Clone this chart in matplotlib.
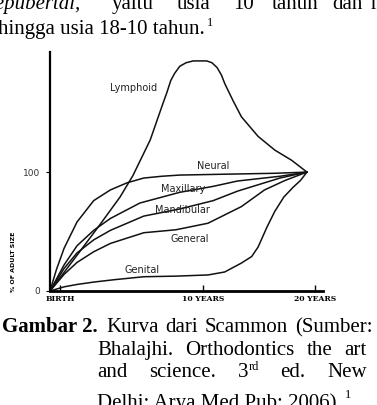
import matplotlib.pyplot as plt

# Scammon growth curves (age in years, % of adult size)
age_lymphoid = [0, 2.1, 3.9, 5.45, 6.45, 7.8, 8.8, 9.1, 9.4, 9.7, 10.1, 10.6, 11.15,
                12.2, 12.6, 13.0, 13.35, 13.6, 14.25, 14.9, 16.2, 17.5, 18.8, 20]
lymphoid = [0, 30, 56, 79, 97, 127, 158, 167, 177, 183, 189, 192, 193.5,
            193.5, 192, 188, 181.5, 174.5, 160, 146.5, 130, 118.5, 110, 100]

age_neural = [0, 0.5, 1.1, 2.1, 3.4, 4.7, 6.0, 7.3, 8.7, 10.1, 12.5, 15, 17.5, 20]
neural = [0, 18, 36, 58, 76, 85, 91, 95, 96.5, 97.5, 98, 98.5, 99, 100]

age_maxillary = [0, 1.1, 2.1, 3.4, 4.7, 7.0, 10.1, 12.7, 14.6, 17.9, 20]
maxillary = [0, 22, 38, 51, 61, 74, 83, 88, 92.5, 96.5, 100]

age_mandibular = [0, 1.1, 2.1, 3.4, 4.7, 7.3, 10.1, 12.7, 14.6, 17.9, 20]
mandibular = [0, 19, 32, 43, 51, 63, 69, 76, 84, 95, 100]

age_general = [0, 1.1, 2.1, 3.4, 4.7, 7.3, 9.8, 12.3, 14.9, 16.7, 18.3, 20]
general = [0, 14, 24, 33, 40, 49, 51.5, 57, 71, 85, 93, 100]

age_genital = [0, 1.1, 2.1, 3.4, 5.0, 7.3, 9.8, 12.3, 13.6, 14.9, 15.7, 16.2,
               16.9, 17.5, 18.2, 18.9, 19.5, 20]
genital = [0, 3.5, 5.5, 7.5, 9.5, 12, 12.5, 13.5, 16, 23.5, 29, 37,
           54, 67, 79, 87, 93, 100]

curve_names = ["Lymphoid", "Neural", "Maxillary", "Mandibular", "General", "Genital"]
label_age = [6.54, 12.68, 10.35, 10.27, 10.9, 7.16]
label_pct = [170.6, 105, 85.7, 68, 43.7, 17.6]

xtick_pos = [0.78, 11.9, 20.6]
xtick_labels = ["BIRTH", "10 YEARS", "20 YEARS"]
ytick_pos = [0, 100]
ytick_labels = ["0", "100"]

W, H = 377, 405
fig = plt.figure(figsize=(W / 100, H / 100), dpi=100)
fig.patch.set_facecolor("white")

ax = fig.add_axes([50 / W, 114 / H, 273 / W, 239 / H])
for xs, ys in [(age_lymphoid, lymphoid), (age_neural, neural),
               (age_maxillary, maxillary), (age_mandibular, mandibular),
               (age_general, general), (age_genital, genital)]:
    ax.plot(xs, ys, color="#111111", lw=1.1, clip_on=False,
            solid_joinstyle="round", solid_capstyle="round")

for name, xa, ya in zip(curve_names, label_age, label_pct):
    ax.text(xa, ya, name, fontsize=7, color="#222222", ha="center", va="center")

ax.set_xlim(0, 21.25)
ax.set_ylim(0, 201)
ax.spines["top"].set_visible(False)
ax.spines["right"].set_visible(False)
ax.spines["left"].set_linewidth(1.6)
ax.spines["bottom"].set_linewidth(2.0)

ax.set_xticks(xtick_pos)
ax.set_xticklabels(xtick_labels, fontsize=5.5, fontweight="bold", family="DejaVu Serif")
ax.set_yticks(ytick_pos)
ax.set_yticklabels(ytick_labels, fontsize=6.5, color="#333333")
ax.tick_params(axis="x", direction="in", length=4, width=1, pad=3)
ax.tick_params(axis="y", direction="out", length=3, width=0.8, pad=4)

fig.text(14 / W, 1 - 262 / H, "% OF ADULT SIZE", rotation=90, fontsize=4.5,
         fontweight="bold", ha="center", va="center")

# ---- surrounding page text ----
renderer = fig.canvas.get_renderer()
SERIF = "Liberation Serif"
SIZE = 15
SUP = 9


def width_of(s, size=SIZE, **kw):
    t = fig.text(0, 0, s, family=SERIF, fontsize=size, **kw)
    wd = t.get_window_extent(renderer).width
    t.remove()
    return wd


def put(px, py, s, size=SIZE, **kw):
    fig.text(px / W, 1 - py / H, s, family=SERIF, fontsize=size,
             ha="left", va="baseline", **kw)
    return width_of(s, size, **kw)


def justify(words, left, right, py, extra=None):
    # spread the leftover room evenly between the words
    extra = extra or [0] * len(words)
    widths = [width_of(w) + e for w, e in zip(words, extra)]
    gap = (right - left - sum(widths)) / (len(words) - 1)
    x = left
    starts = []
    for w, wd in zip(words, widths):
        put(x, py, w)
        starts.append(x)
        x += wd + gap
    return starts


# top paragraph, cut by the crop
fig.text(80 / W, 1 - 9 / H, "prepubertal,", family=SERIF, fontsize=SIZE,
         style="italic", ha="right", va="baseline")
for px, word in [(112, "yaitu"), (177, "usia"), (233, "10"), (272, "tahun"),
                 (332, "dan"), (371, "m")]:
    put(px, 9, word)
wline = put(-2, 34, "hingga usia 18-10 tahun.")
put(wline, 26, "1", size=SUP)

# caption
put(2, 332, "Gambar 2.", weight="bold")
justify(["Kurva", "dari", "Scammon", "(Sumber:"], 106, 373, 332)
justify(["Bhalajhi.", "Orthodontics", "the", "art"], 97, 367, 355)
rd_w = width_of("rd", SUP)
starts = justify(["and", "science.", "3", "ed.", "New"], 97, 367, 377,
                 extra=[0, 0, rd_w, 0, 0])
put(starts[2] + width_of("3") + 0.5, 370, "rd", size=SUP)
wl4 = put(97, 408, "Delhi: Arya Med Pub; 2006).")
put(97 + wl4 + 3, 398, "1", size=SUP)

fig.savefig("out.png", dpi=100)
